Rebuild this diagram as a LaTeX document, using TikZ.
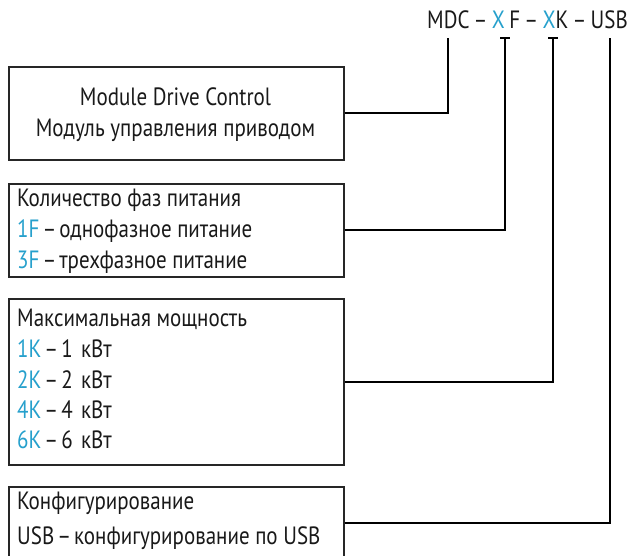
\documentclass[tikz,border=0pt]{standalone}
\usepackage{fontspec}
\setmainfont[FakeStretch=0.84]{PT Sans}
\newcommand{\dd}{\hspace{0.12em}–\hspace{0.12em}}
\newcommand{\td}{\hspace{0.17em}–\hspace{0.17em}}
\begin{document}
\begin{tikzpicture}[x=1pt,y=-1pt,
  box/.style={draw=black!85,line width=1.6pt,rectangle,anchor=north west,inner sep=0pt},
  conn/.style={draw=black,line width=2pt},
  txt/.style={anchor=base west,inner sep=0pt,font=\fontsize{25}{25}\selectfont,text=black!90}]
\definecolor{cyanblue}{RGB}{38,160,204}
\useasboundingbox (0,0) rectangle (631,555);
\clip (0,0) rectangle (631,555);
% title
\node[txt,anchor=base east] (title) at (628,28) {MDC\td\textcolor{cyanblue}{X}\hspace{0.18em}F\td\textcolor{cyanblue}{X}K\td USB};
\coordinate (t1) at (448,38);
\coordinate (t2) at (505,38);
\coordinate (t3) at (553,38);
\coordinate (t4) at (610,38);
% boxes
\node[box,minimum width=335pt,minimum height=93pt] (b1) at (8,66) {};
\node[box,minimum width=335pt,minimum height=93pt] (b2) at (8,183) {};
\node[box,minimum width=335pt,minimum height=166pt] (b3) at (8,298) {};
\node[box,minimum width=335pt,minimum height=72pt] (b4) at (8,486) {};
% box texts
\node[txt,anchor=base] (l11) at (175.5,105) {Module Drive Control};
\node[txt,anchor=base] (l12) at (175.5,136) {Модуль управления приводом};
\node[txt] (l21) at (17,206) {Количество фаз питания};
\node[txt] (l22) at (17,237) {\textcolor{cyanblue}{1F}\dd однофазное питание};
\node[txt] (l23) at (17,268) {\textcolor{cyanblue}{3F}\dd трехфазное питание};
\node[txt] (l31) at (17,326) {Максимальная мощность};
\node[txt] (l32) at (17,357) {\textcolor{cyanblue}{1K}\dd 1\,\,кВт};
\node[txt] (l33) at (17,388) {\textcolor{cyanblue}{2K}\dd 2\,\,кВт};
\node[txt] (l34) at (17,418) {\textcolor{cyanblue}{4K}\dd 4\,\,кВт};
\node[txt] (l35) at (17,448) {\textcolor{cyanblue}{6K}\dd 6\,\,кВт};
\node[txt] (l41) at (17,509) {Конфигурирование};
\node[txt] (l42) at (17,544) {USB\dd конфигурирование по USB};
% connectors
\draw[conn] (b1.east) -| (t1);
\draw[conn] (b2.east) -| (t2);
\draw[conn] (b3.east) -| (t3);
\draw[conn] (b4.east) -| (t4);
\draw[conn] ([xshift=-5pt]t2) -- ([xshift=5pt]t2);
\draw[conn] ([xshift=-5pt]t3) -- ([xshift=5pt]t3);
\end{tikzpicture}
\end{document}
